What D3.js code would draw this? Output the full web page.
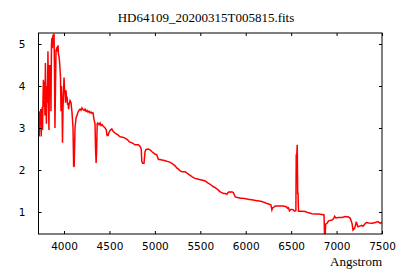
<!DOCTYPE html>
<html>
<head>
<meta charset="utf-8">
<script src="https://cdn.jsdelivr.net/npm/d3@7"></script>
<style>
  body { margin: 0; background: white; }
</style>
</head>
<body>
<div id="grafico"></div>
<script>
var titulo = "HD64109_20200315T005815.fits";
var etiquetaX = "Angstrom";
var ticksX = [4000, 4500, 5000, 5500, 6000, 6500, 7000, 7500];
var ticksY = [1, 2, 3, 4, 5];

// longitud de onda (Angstrom) y flujo
var onda = [
  3722, 3727, 3733, 3738, 3744, 3749, 3755, 3760, 3763, 3768, 3773, 3779, 3784, 3790, 3795, 3801,
  3806, 3812, 3818, 3823, 3829, 3834, 3840, 3845, 3851, 3856, 3862, 3867, 3873, 3878, 3884, 3890,
  3895, 3900, 3906, 3912, 3917, 3923, 3928, 3934, 3939, 3945, 3950, 3956, 3961, 3967, 3972, 3978,
  3983, 3989, 3994, 4000, 4006, 4011, 4017, 4022, 4028, 4033, 4039, 4044, 4050, 4055, 4066, 4077,
  4088, 4099, 4106, 4112, 4121, 4132, 4143, 4154, 4165, 4176, 4187, 4198, 4209, 4220, 4231, 4242,
  4253, 4264, 4275, 4286, 4297, 4308, 4319, 4330, 4341, 4347, 4353, 4358, 4365, 4371, 4386, 4397,
  4408, 4419, 4430, 4452, 4465, 4474, 4485, 4496, 4510, 4526, 4540, 4562, 4590, 4617, 4645, 4672,
  4700, 4719, 4746, 4782, 4819, 4837, 4850, 4856, 4866, 4880, 4892, 4903, 4925, 4947, 4965, 4984,
  5000, 5021, 5039, 5058, 5076, 5095, 5113, 5130, 5149, 5168, 5187, 5205, 5223, 5241, 5259, 5278,
  5297, 5315, 5333, 5350, 5369, 5388, 5407, 5425, 5443, 5462, 5480, 5500, 5517, 5535, 5554, 5572,
  5590, 5609, 5627, 5645, 5664, 5682, 5700, 5719, 5737, 5755, 5775, 5793, 5805, 5821, 5835, 5848,
  5865, 5884, 5900, 5920, 5940, 5958, 5985, 6013, 6040, 6068, 6095, 6123, 6150, 6178, 6200, 6215,
  6235, 6251, 6277, 6288, 6296, 6306, 6325, 6350, 6380, 6410, 6435, 6450, 6460, 6470, 6482, 6495,
  6509, 6525, 6534, 6552, 6556, 6562, 6567, 6572, 6576, 6581, 6600, 6619, 6655, 6692, 6729, 6765,
  6802, 6839, 6862, 6868, 6875, 6879, 6894, 6912, 6949, 6970, 6978, 6994, 7022, 7060, 7096, 7132,
  7151, 7170, 7181, 7198, 7210, 7217, 7226, 7236, 7261, 7275, 7291, 7309, 7327, 7353, 7390, 7426,
  7456, 7481, 7500
];
var flujo = [
  3.3, 2.8, 3.4, 3.1, 3.45, 2.8, 3.3, 3.5, 2.95, 3.6, 4.15, 3.5, 4.1, 3.3, 4.55, 3.6,
  3.1, 4.0, 3.6, 4.83, 3.6, 2.95, 4.5, 3.8, 4.5, 3.4, 5.0, 5.15, 4.9, 5.22, 5.05, 5.25,
  4.4, 3.0, 4.0, 4.85, 4.88, 4.82, 4.9, 4.97, 4.75, 4.7, 4.6, 4.4, 4.2, 3.4, 4.0, 3.6,
  2.65, 3.5, 3.8, 4.2, 3.9, 3.85, 3.6, 3.9, 3.65, 3.75, 3.55, 3.6, 3.45, 3.55, 3.65, 3.6,
  3.36, 3.0, 2.07, 2.1, 3.0, 3.24, 3.3, 3.38, 3.42, 3.45, 3.42, 3.48, 3.44, 3.42, 3.45, 3.4,
  3.42, 3.38, 3.4, 3.36, 3.38, 3.35, 3.36, 3.2, 3.1, 2.5, 2.17, 2.4, 3.1, 3.12, 3.08, 3.12,
  3.06, 3.08, 3.05, 3.0, 2.95, 2.82, 2.82, 2.9, 2.95, 2.98, 2.92, 2.88, 2.84, 2.79, 2.78, 2.76,
  2.72, 2.67, 2.65, 2.6, 2.6, 2.56, 2.5, 2.2, 2.16, 2.16, 2.44, 2.49, 2.5, 2.48, 2.44, 2.41,
  2.38, 2.36, 2.25, 2.25, 2.24, 2.23, 2.22, 2.21, 2.2, 2.18, 2.16, 2.13, 2.1, 2.05, 2.02, 1.98,
  1.96, 1.96, 1.96, 1.93, 1.9, 1.87, 1.84, 1.82, 1.8, 1.79, 1.78, 1.77, 1.76, 1.75, 1.74, 1.71,
  1.68, 1.66, 1.63, 1.6, 1.58, 1.55, 1.52, 1.48, 1.46, 1.44, 1.44, 1.42, 1.46, 1.48, 1.47, 1.48,
  1.46, 1.36, 1.35, 1.34, 1.33, 1.33, 1.32, 1.31, 1.3, 1.29, 1.28, 1.27, 1.26, 1.25, 1.23, 1.22,
  1.2, 1.19, 1.17, 1.05, 1.1, 1.11, 1.14, 1.14, 1.14, 1.14, 1.13, 1.12, 1.09, 1.1, 1.03, 1.06,
  1.06, 1.05, 1.02, 1.03, 2.36, 2.36, 2.6, 1.44, 1.44, 1.02, 1.02, 1.02, 1.01, 0.98, 0.96, 0.95,
  0.95, 0.94, 0.93, 0.4, 0.4, 0.71, 0.73, 0.79, 0.81, 0.85, 0.9, 0.86, 0.87, 0.87, 0.89, 0.88,
  0.85, 0.73, 0.57, 0.61, 0.7, 0.77, 0.7, 0.65, 0.67, 0.68, 0.66, 0.71, 0.75, 0.74, 0.73, 0.75,
  0.77, 0.73, 0.76
];

var width = 400;
var height = 280;
var margin = { left: 38.5, right: 18, top: 33, bottom: 46 };
var plotW = width - margin.left - margin.right;
var plotH = height - margin.top - margin.bottom;

var x = d3.scaleLinear().domain([3719, 7500]).range([0, plotW]);
var y = d3.scaleLinear().domain([0.476, 5.262]).range([plotH, 0]);

var svg = d3
  .select("#grafico")
  .append("svg")
  .attr("width", width)
  .attr("height", height);

var canvas = svg
  .append("g")
  .attr("transform", `translate(${margin.left},${margin.top})`);

canvas
  .append("clipPath")
  .attr("id", "recorte")
  .append("rect")
  .attr("width", plotW)
  .attr("height", plotH);

var datos = onda.map((d, i) => [d, flujo[i]]);

var linea = d3.line().x(d => x(d[0])).y(d => y(d[1]));

canvas
  .append("path")
  .datum(datos)
  .attr("clip-path", "url(#recorte)")
  .attr("fill", "none")
  .attr("stroke", "#ff0000")
  .attr("stroke-width", 1.5)
  .attr("d", linea);

// ejes con ticks hacia dentro en los cuatro lados
var estiloEje = g => {
  g.select(".domain").remove();
  g.selectAll("text")
    .attr("font-family", "DejaVu Sans")
    .attr("font-size", "10.5px")
    .attr("fill", "#000");
  g.selectAll("line").attr("stroke", "#000");
};

var formato = d3.format("d");

canvas
  .append("g")
  .attr("transform", `translate(0,${plotH})`)
  .call(d3.axisBottom(x).tickValues(ticksX).tickFormat(formato).tickSizeInner(-3).tickSizeOuter(0).tickPadding(9))
  .call(estiloEje);

canvas
  .append("g")
  .call(d3.axisTop(x).tickValues(ticksX).tickSizeInner(-3).tickSizeOuter(0).tickFormat(""))
  .call(estiloEje);

canvas
  .append("g")
  .call(d3.axisLeft(y).tickValues(ticksY).tickFormat(formato).tickSizeInner(-3).tickSizeOuter(0).tickPadding(13))
  .call(estiloEje);

canvas
  .append("g")
  .attr("transform", `translate(${plotW},0)`)
  .call(d3.axisRight(y).tickValues(ticksY).tickSizeInner(-3).tickSizeOuter(0).tickFormat(""))
  .call(estiloEje);

canvas
  .append("rect")
  .attr("width", plotW)
  .attr("height", plotH)
  .attr("fill", "none")
  .attr("stroke", "#000")
  .attr("stroke-width", 1);

svg
  .append("text")
  .text(titulo)
  .attr("x", 206)
  .attr("y", 22)
  .attr("text-anchor", "middle")
  .attr("font-family", "Liberation Serif")
  .attr("font-size", "13px");

svg
  .append("text")
  .text(etiquetaX)
  .attr("x", margin.left + plotW)
  .attr("y", 266)
  .attr("text-anchor", "end")
  .attr("font-family", "Liberation Serif")
  .attr("font-size", "13px");
</script>
</body>
</html>
